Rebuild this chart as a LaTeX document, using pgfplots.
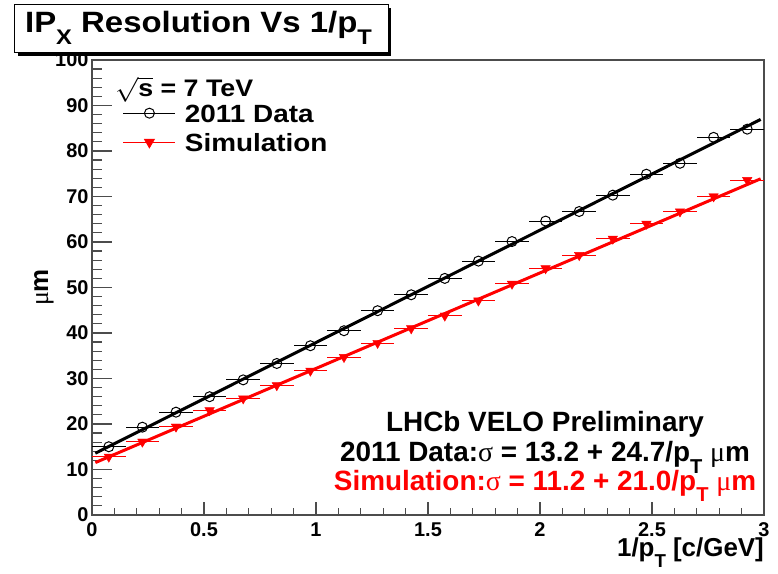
\documentclass[border=0pt]{standalone}
\usepackage{fontspec}
\setmainfont{Liberation Sans}
\newfontfamily\symb{Liberation Serif}
\usepackage{graphicx}
\usepackage{pgfplots}
\pgfplotsset{compat=1.18}
\newcommand{\sub}[1]{\raisebox{-0.4em}{\scalebox{0.72}{#1}}}
\newcommand{\wide}[1]{\scalebox{1.12}[1]{#1}}
\definecolor{rootred}{RGB}{255,0,0}

\pgfplotstableread{
x y
0.075 15.0
0.225 19.3
0.375 22.6
0.525 26.0
0.675 29.7
0.825 33.3
0.975 37.2
1.125 40.5
1.275 44.9
1.425 48.4
1.575 52.0
1.725 55.8
1.875 60.1
2.025 64.6
2.175 66.7
2.325 70.3
2.475 74.9
2.625 77.3
2.775 83.0
2.925 84.8
}\datatab

\pgfplotstableread{
x y
0.075 12.8
0.225 16.1
0.375 19.4
0.525 23.0
0.675 25.6
0.825 28.5
0.975 31.7
1.125 34.7
1.275 37.8
1.425 41.0
1.575 43.8
1.725 47.1
1.875 50.8
2.025 54.2
2.175 57.1
2.325 60.7
2.475 64.0
2.625 66.7
2.775 70.0
2.925 73.6
}\simtab

\begin{document}
\begin{tikzpicture}
\path[use as bounding box] (-92bp,-59bp) rectangle (686bp,515bp);
\begin{axis}[
  scale only axis, width=672bp, height=455bp,
  xmin=0, xmax=3, ymin=0, ymax=100,
  xtick={0,0.5,1,1.5,2,2.5,3},
  xticklabels={0,0.5,1,1.5,2,2.5,3},
  ytick={0,10,20,30,40,50,60,70,80,90,100},
  minor x tick num=4, minor y tick num=4,
  tick align=inside, tick pos=left,
  major tick length=20bp, minor tick length=10bp,
  every major x tick/.append style={/pgfplots/major tick length=13bp},
  every minor x tick/.append style={/pgfplots/minor tick length=7bp},
  axis line style={black!70, line width=1.4bp},
  tick style={black!70, line width=1.2bp},
  /pgf/number format/assume math mode=true,
  tick label style={font=\fontsize{20}{20}\selectfont\bfseries},
  xticklabel style={yshift=-4bp},
  xlabel={\bfseries 1/p\sub{T} [c/GeV]},
  xlabel style={at={(axis description cs:1,-0.092)}, anchor=base east, font=\fontsize{26}{26}\selectfont, inner sep=0pt},
  ylabel={{\symb μ}\bfseries m},
  ylabel style={at={(axis description cs:-0.0714,0.5)}, anchor=center, font=\fontsize{26}{26}\selectfont, inner sep=0pt},
  legend style={at={(axis description cs:0.046,0.915)}, anchor=north west, draw=none, fill=none, inner sep=0pt, outer sep=0pt,
    row sep=0pt, column sep=9bp,
    nodes={inner sep=0pt, text height=24bp, text depth=5bp}},
  legend cell align=left,
  legend image code/.code={\draw[mark repeat=2,mark phase=2,#1] plot coordinates {(0bp,0bp)(26bp,0bp)(52bp,0bp)};},
]
\addlegendimage{black, line width=1bp, mark=o, mark size=5bp, mark options={line width=1bp}}
\addlegendentry{\fontsize{25}{25}\selectfont\bfseries\wide{2011 Data}}
\addlegendimage{rootred, line width=1bp, mark=triangle*, mark size=5.5bp, mark options={rotate=180, fill=rootred}}
\addlegendentry{\fontsize{25}{25}\selectfont\bfseries\wide{Simulation}}

\addplot[forget plot, only marks, black, mark=o, mark size=5bp, mark options={line width=1bp},
  error bars/.cd, x dir=both, x fixed=0.075, error mark=none, error bar style={line width=1bp, black}]
  table[x=x,y=y] {\datatab};
\addplot[forget plot, only marks, rootred, mark=triangle*, mark size=5.5bp, mark options={rotate=180, fill=rootred},
  error bars/.cd, x dir=both, x fixed=0.075, error mark=none, error bar style={line width=1bp, rootred}]
  table[x=x,y=y] {\simtab};
\addplot[forget plot, black, line width=3bp] coordinates {(0.015,13.57) (2.985,86.93)};
\addplot[forget plot, rootred, line width=3bp] coordinates {(0.015,11.52) (2.985,73.89)};
\end{axis}

% sqrt(s) line
\node[anchor=base west, inner sep=0pt, font=\fontsize{24}{24}\selectfont\bfseries] at (23bp,418bp) {\wide{$\sqrt{\hbox{\bfseries s}}$ = 7 TeV}};

% bottom-right text
\node[anchor=base, inner sep=0pt, font=\fontsize{28}{28}\selectfont\bfseries] at (453bp,83bp) {LHCb VELO Preliminary};
\node[anchor=base, inner sep=0pt, font=\fontsize{28}{28}\selectfont\bfseries] at (453bp,53bp) {2011 Data:{\mdseries\symb σ} = 13.2 + 24.7/p\sub{T} {\mdseries\symb μ}m};
\node[anchor=base, inner sep=0pt, font=\fontsize{28}{28}\selectfont\bfseries, text=rootred] at (453bp,25bp) {Simulation:{\mdseries\symb σ} = 11.2 + 21.0/p\sub{T} {\mdseries\symb μ}m};

% title box
\fill[black] (-74bp,459bp) rectangle (299bp,507bp);
\filldraw[fill=white, draw=black, line width=1bp] (-77bp,462bp) rectangle (296bp,510bp);
\node[anchor=base, inner sep=0pt, font=\fontsize{29.5}{29.5}\selectfont\bfseries] at (106.5bp,482bp) {\wide{IP\sub{X} Resolution Vs 1/p\sub{T}}};
\end{tikzpicture}
\end{document}
